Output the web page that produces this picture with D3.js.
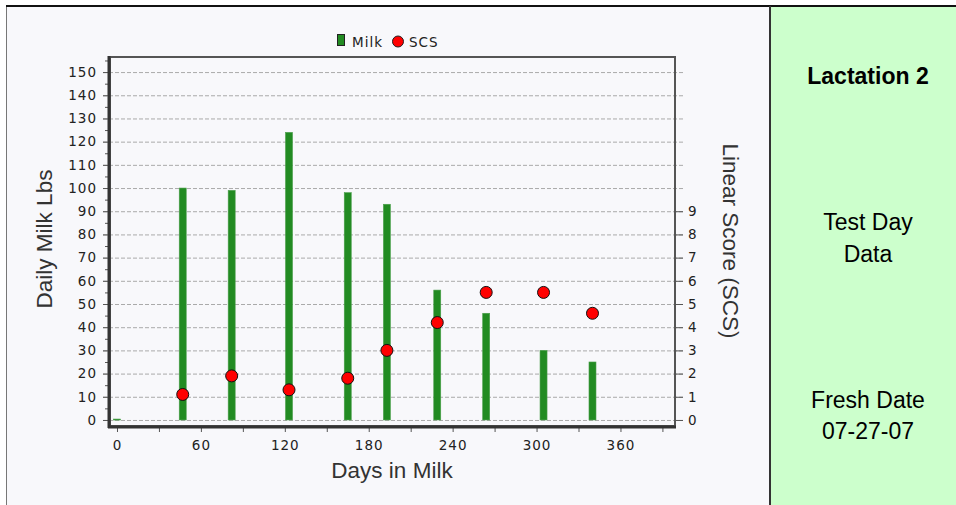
<!DOCTYPE html>
<html>
<head>
<meta charset="utf-8">
<script src="https://cdn.jsdelivr.net/npm/d3@7"></script>
<style>
  body { margin: 0; background: #fff; }
  svg { display: block; }
</style>
</head>
<body>
<div id="chart"></div>
<script>
// test day data, lactation 2
var days = [0, 47, 82, 123, 165, 193, 229, 264, 305, 340];
var milk = [0.4, 100, 99, 124, 98, 93, 56, 46, 30, 25];
var scs = [null, 1.1, 1.9, 1.3, 1.8, 3.0, 4.2, 5.5, 5.5, 4.6];

var milkTicks = d3.range(0, 151, 10);
var scsTicks = d3.range(0, 10, 1);
var dayTicks = [0, 60, 120, 180, 240, 300, 360];

var panelLines = [
  { text: "Lactation 2", y: 84, bold: true },
  { text: "Test Day", y: 230 },
  { text: "Data", y: 262 },
  { text: "Fresh Date", y: 408 },
  { text: "07-27-07", y: 439 }
];

var width = 956, height = 505;
var tickFont = "DejaVu Sans, Verdana, sans-serif";
var titleFont = "Liberation Sans, Arial, sans-serif";

var svg = d3.select("#chart").append("svg")
  .attr("width", width).attr("height", height);

// chart background + borders
svg.append("rect").attr("x", 6).attr("y", 6).attr("width", 764).attr("height", height - 6)
  .attr("fill", "#f8f8fb");
svg.append("rect").attr("x", 771).attr("y", 6).attr("width", width - 771).attr("height", height - 6)
  .attr("fill", "#ccffcc");
svg.append("line").attr("x1", 6.5).attr("x2", 6.5).attr("y1", 6).attr("y2", height)
  .attr("stroke", "#777").attr("stroke-width", 1);
svg.append("line").attr("x1", 6).attr("x2", width).attr("y1", 6).attr("y2", 6)
  .attr("stroke", "#111").attr("stroke-width", 2);
svg.append("line").attr("x1", 770).attr("x2", 770).attr("y1", 6).attr("y2", height)
  .attr("stroke", "#333").attr("stroke-width", 2);

// scales
var x = d3.scaleLinear().domain([-5, 399]).range([110, 675]);
var y = d3.scaleLinear().domain([-2.6, 156.5]).range([426, 57]);
var y2 = d3.scaleLinear().domain([-0.26, 15.65]).range([426, 57]);

// grid lines
svg.append("g").selectAll("line").data(milkTicks).enter().append("line")
  .attr("x1", 103).attr("x2", 683)
  .attr("y1", function(d) { return y(d) + 0.5; })
  .attr("y2", function(d) { return y(d) + 0.5; })
  .attr("stroke", "#aaa").attr("stroke-dasharray", "4,2");

// frame
svg.append("rect").attr("x", 110).attr("y", 57).attr("width", 565).attr("height", 369)
  .attr("fill", "none").attr("stroke", "#555").attr("stroke-width", 2);

// left axis
var leftAxis = d3.axisLeft(y).tickValues(milkTicks).tickSize(6).tickPadding(6);
var gl = svg.append("g").attr("transform", "translate(109,0)").call(leftAxis);
gl.select(".domain").remove();
var leftMinor = d3.axisLeft(y).tickValues(d3.range(5, 160, 10)).tickSize(4).tickFormat("");
var glm = svg.append("g").attr("transform", "translate(109,0)").call(leftMinor);
glm.select(".domain").remove();

// bottom axis
var bottomAxis = d3.axisBottom(x).tickValues(dayTicks).tickSize(5).tickPadding(8);
var gb = svg.append("g").attr("transform", "translate(0,427)").call(bottomAxis);
gb.select(".domain").remove();
var bottomMinor = d3.axisBottom(x).tickValues(d3.range(30, 400, 60)).tickSize(5).tickFormat("");
var gbm = svg.append("g").attr("transform", "translate(0,427)").call(bottomMinor);
gbm.select(".domain").remove();

// right axis (SCS)
var rightAxis = d3.axisRight(y2).tickValues(scsTicks).tickSize(8).tickPadding(5);
var gr = svg.append("g").attr("transform", "translate(675,0)").call(rightAxis);
gr.select(".domain").remove();

svg.selectAll(".tick text")
  .attr("font-family", tickFont).attr("font-size", 13.5)
  .attr("letter-spacing", 1).attr("fill", "#222");
svg.selectAll(".tick line").attr("stroke", "#555");

// thick left and bottom axis lines
svg.append("line").attr("x1", 109).attr("x2", 109).attr("y1", 56).attr("y2", 428)
  .attr("stroke", "#333").attr("stroke-width", 3);
svg.append("line").attr("x1", 108).attr("x2", 676).attr("y1", 427).attr("y2", 427)
  .attr("stroke", "#333").attr("stroke-width", 3);

// milk bars
var barW = 7;
svg.append("g").selectAll("rect").data(days).enter().append("rect")
  .attr("x", function(d) { return x(d) - barW / 2; })
  .attr("width", barW)
  .attr("y", function(d, i) { return y(milk[i]); })
  .attr("height", function(d, i) { return Math.max(1, y(0) - y(milk[i])); })
  .attr("fill", "#228b22")
  .attr("stroke", "#4a9e4a").attr("stroke-width", 0.6);

// SCS points
var pts = days.map(function(d, i) { return { day: d, v: scs[i] }; })
  .filter(function(p) { return p.v != null; });
svg.append("g").selectAll("circle").data(pts).enter().append("circle")
  .attr("cx", function(p) { return x(p.day); })
  .attr("cy", function(p) { return y2(p.v); })
  .attr("r", 6)
  .attr("fill", "#ff0000").attr("stroke", "#111").attr("stroke-width", 1);

// axis titles
svg.append("text").text("Daily Milk Lbs")
  .attr("transform", "translate(52,239) rotate(-90)")
  .attr("text-anchor", "middle")
  .attr("font-family", titleFont).attr("font-size", 22.5).attr("fill", "#333");
svg.append("text").text("Days in Milk")
  .attr("x", 392).attr("y", 478)
  .attr("text-anchor", "middle")
  .attr("font-family", titleFont).attr("font-size", 22.5).attr("fill", "#333");
svg.append("text").text("Linear Score (SCS)")
  .attr("transform", "translate(723,241) rotate(90)")
  .attr("text-anchor", "middle")
  .attr("font-family", titleFont).attr("font-size", 22.5).attr("fill", "#333");

// legend
var legend = svg.append("g");
legend.append("rect").attr("x", 337.5).attr("y", 34.5).attr("width", 7).attr("height", 11)
  .attr("fill", "#228b22").attr("stroke", "#222");
legend.append("text").text("Milk").attr("x", 352).attr("y", 46.5)
  .attr("font-family", tickFont).attr("font-size", 13.5).attr("letter-spacing", 1).attr("fill", "#222");
legend.append("circle").attr("cx", 398).attr("cy", 41.5).attr("r", 5.5)
  .attr("fill", "#ff0000").attr("stroke", "#222");
legend.append("text").text("SCS").attr("x", 409).attr("y", 46.5)
  .attr("font-family", tickFont).attr("font-size", 13.5).attr("letter-spacing", 1).attr("fill", "#222");

// side panel
svg.append("g").selectAll("text").data(panelLines).enter().append("text")
  .text(function(d) { return d.text; })
  .attr("x", 868).attr("y", function(d) { return d.y; })
  .attr("text-anchor", "middle")
  .attr("font-family", titleFont).attr("font-size", 23)
  .attr("font-weight", function(d) { return d.bold ? "bold" : "normal"; })
  .attr("fill", "#000");
</script>
</body>
</html>
